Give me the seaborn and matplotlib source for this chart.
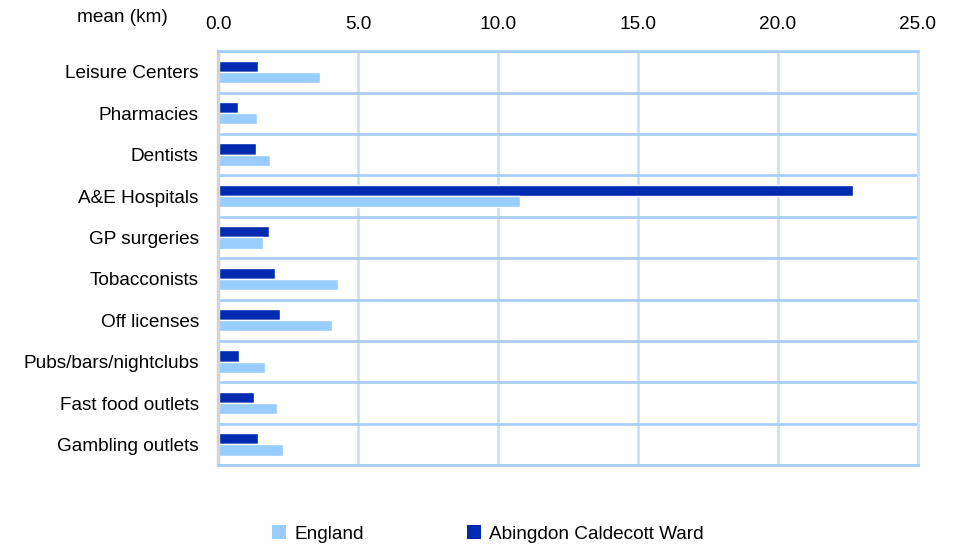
import numpy as np
import pandas as pd
import matplotlib
matplotlib.use("Agg")
import matplotlib.pyplot as plt
from matplotlib.patches import Patch
import seaborn as sns

categories = ['Leisure Centers', 'Pharmacies', 'Dentists', 'A&E Hospitals', 'GP surgeries',
              'Tobacconists', 'Off licenses', 'Pubs/bars/nightclubs', 'Fast food outlets',
              'Gambling outlets']
england = [3.64, 1.39, 1.86, 10.79, 1.61, 4.29, 4.07, 1.68, 2.11, 2.32]
ward = [1.43, 0.71, 1.36, 22.68, 1.82, 2.04, 2.21, 0.75, 1.29, 1.43]
series_names = ['England', 'Abingdon Caldecott Ward']
colors = {'England': '#99ccff', 'Abingdon Caldecott Ward': '#002bb0'}

df = pd.DataFrame({
    'category': categories * 2,
    'area': ['England'] * len(categories) + ['Abingdon Caldecott Ward'] * len(categories),
    'mean_km': england + ward,
})

sns.set_style('white')
plt.rcParams['font.family'] = ['Liberation Sans', 'DejaVu Sans']
plt.rcParams['text.color'] = 'black'
plt.rcParams['xtick.color'] = 'black'
plt.rcParams['ytick.color'] = 'black'
fs = 13.7

fig = plt.figure(figsize=(9.57, 5.44), dpi=100)
ax = fig.add_axes([0.228, 0.145, 0.731, 0.761])

# ward drawn on top of england within each row
sns.barplot(data=df, y='category', x='mean_km', hue='area', order=categories,
            hue_order=['Abingdon Caldecott Ward', 'England'], palette=colors,
            width=0.54, gap=0, ax=ax, legend=False, saturation=1)

ax.set_xlim(0, 25)
ax.set_ylim(len(categories) - 0.5, -0.5)
ax.set_xticks(np.arange(0, 26, 5))
ax.set_xticklabels([f'{v:.1f}' for v in np.arange(0, 26, 5)], fontsize=fs)
ax.xaxis.tick_top()
ax.tick_params(axis='x', length=0, pad=13)
ax.tick_params(axis='y', length=0, pad=14, labelsize=fs)
ax.set_xlabel('')
ax.set_ylabel('')

ax.set_yticks(np.arange(-0.5, len(categories), 1), minor=True)
ax.tick_params(axis='y', which='minor', length=0)
ax.grid(axis='x', which='major', color='#cce0f8', linewidth=2)
ax.grid(axis='y', which='minor', color='#a6d0fb', linewidth=2)
ax.grid(axis='y', which='major', visible=False)
ax.set_axisbelow(True)

for side in ['top', 'bottom']:
    ax.spines[side].set_color('#a6d0fb')
    ax.spines[side].set_linewidth(2)
ax.spines['right'].set_color('#cce0f8')
ax.spines['right'].set_linewidth(2)
ax.spines['left'].set_color('#d4d4d4')
ax.spines['left'].set_linewidth(2.5)

fig.text(0.128, 0.968, 'mean (km)', fontsize=fs, ha='center', va='center')

handles = [Patch(facecolor=colors[n], edgecolor='none') for n in series_names]
fig.legend(handles, series_names, loc='center left', bbox_to_anchor=(0.284, 0.018), ncol=2,
           frameon=False, fontsize=fs, handlelength=0.74, handleheight=0.74,
           handletextpad=0.45, columnspacing=5.4, borderpad=0, borderaxespad=0)

fig.savefig('out.png', dpi=100)
